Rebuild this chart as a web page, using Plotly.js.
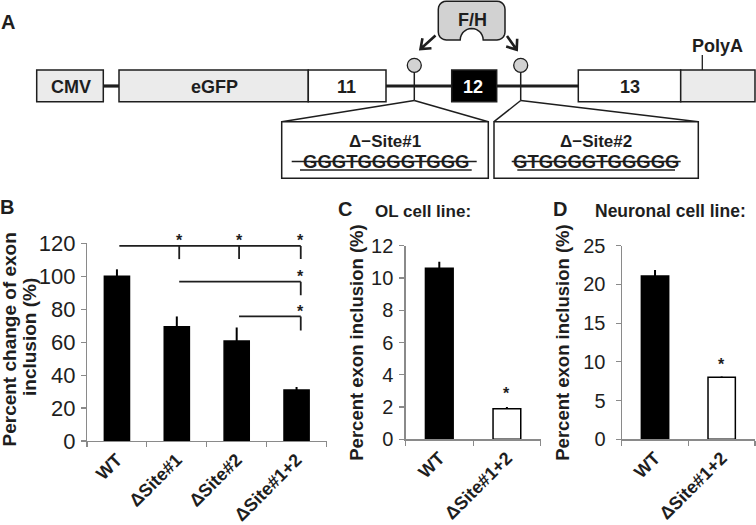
<!DOCTYPE html>
<html>
<head>
<meta charset="utf-8">
<script src="https://cdn.plot.ly/plotly-3.0.1.min.js"></script>
<style>
  html, body { margin: 0; padding: 0; background: #fff; }
  #chart { width: 756px; height: 525px; }
</style>
</head>
<body>
<div id="chart"></div>
<script>
// ---- values ---------------------------------------------------------------
const catsB = ['WT', 'ΔSite#1', 'ΔSite#2', 'ΔSite#1+2'];
const valsB = [100, 69.3, 60.7, 31.0];
const errB = [4.2, 6.3, 8.2, 1.8];

const catsCD = ['WT', 'ΔSite#1+2'];
const valsC = [10.6, 1.9];
const errC = [0.4, 0.1];
const valsD = [21.1, 8.0];
const errD = [0.75, 0.12];
const barColorsCD = ['#000000', '#ffffff'];

const ticksB = [0, 20, 40, 60, 80, 100, 120];
const ticksC = [0, 2, 4, 6, 8, 10, 12];
const ticksD = [0, 5, 10, 15, 20, 25];

// significance brackets in B (category index from → drops, bar height, drop end, star height)
const bracketFrom = [0, 1, 2];
const bracketDrops = [[1, 2, 3], [3], [3]];
const bracketY = [118.4, 96.7, 75.6];
const bracketLow = [110.4, 88.4, 67.1];
const bracketStar = [124, 102.5, 81.2];
const starC = 3.1, starD = 10.2;

// ---- page geometry: margins are zero, so paper coords map straight to pixels
const W = 756, H = 525;
const px = (x) => x / W;
const py = (y) => 1 - y / H;
const INK = '#1e1e1e';
const AXIS = '#8a8a8a';
const FONT = 'Arial, "Liberation Sans", Helvetica, sans-serif';

function rect(x0, y0, x1, y1, fill, w = 1.5) {
  return { type: 'rect', xref: 'paper', yref: 'paper', x0: px(x0), x1: px(x1), y0: py(y1), y1: py(y0),
    fillcolor: fill, line: { color: INK, width: w } };
}
function seg(x0, y0, x1, y1, w = 1.5) {
  return { type: 'line', xref: 'paper', yref: 'paper', x0: px(x0), y0: py(y0), x1: px(x1), y1: py(y1),
    line: { color: INK, width: w } };
}
function circle(cx, cy, r, fill) {
  return { type: 'circle', xref: 'paper', yref: 'paper', x0: px(cx - r), x1: px(cx + r), y0: py(cy + r), y1: py(cy - r),
    fillcolor: fill, line: { color: INK, width: 1.3 } };
}
function pathOf(pts, close) {
  return 'M' + pts.map(([x, y]) => `${px(x).toFixed(5)},${py(y).toFixed(5)}`).join('L') + (close ? 'Z' : '');
}
function arc(cx, cy, r, a0, a1, n = 10) {
  const out = [];
  for (let i = 0; i <= n; i++) {
    const a = a0 + (a1 - a0) * i / n;
    out.push([cx + r * Math.cos(a), cy + r * Math.sin(a)]);
  }
  return out;
}
function arrow(x0, y0, x1, y1, arm = 11, half = 0.66) {
  const a = Math.atan2(y0 - y1, x0 - x1);
  const p1 = [x1 + arm * Math.cos(a + half), y1 + arm * Math.sin(a + half)];
  const p2 = [x1 + arm * Math.cos(a - half), y1 + arm * Math.sin(a - half)];
  return { type: 'path', xref: 'paper', yref: 'paper', path: pathOf([[x0, y0], [x1, y1]]) + pathOf([p1, [x1, y1], p2]),
    line: { color: INK, width: 2.6 }, fillcolor: 'rgba(0,0,0,0)' };
}
function text(t, x, y, size, extra = {}) {
  return Object.assign({ xref: 'paper', yref: 'paper', x: px(x), y: py(y), text: t, showarrow: false,
    xanchor: 'center', yanchor: 'middle', font: { family: FONT, size, color: INK } }, extra);
}

// ---- panel A: construct diagram --------------------------------------------
const shapes = [];
const yMid = 86, yTop = 70, yBot = 101.7;
shapes.push(seg(103, yMid, 120, yMid, 3.2));
shapes.push(seg(386, yMid, 452, yMid, 3.2));
shapes.push(seg(496, yMid, 579, yMid, 3.2));
shapes.push(rect(36.7, yTop, 103.3, yBot, '#ebebeb'));
shapes.push(rect(119, yTop, 308.3, yBot, '#ebebeb'));
shapes.push(rect(308.3, yTop, 386, yBot, '#ffffff'));
shapes.push(rect(451.7, yTop, 496.7, yBot, '#000000'));
shapes.push(rect(578.3, yTop, 680.7, yBot, '#ffffff'));
shapes.push(rect(680.7, yTop, 755, yBot, '#ebebeb'));
shapes.push(seg(702.3, yTop, 702.3, 55, 1.3));

// binding sites, stems and zoom-out fans
const sites = [
  { x: 414.3, box: [281.7, 488.3] },
  { x: 520.7, box: [494, 698.3] },
];
sites.forEach((s) => {
  shapes.push(seg(s.x, 72, s.x, 100.5, 1.5));
  shapes.push(seg(s.x, 100.5, s.box[0], 121.7, 1.5));
  shapes.push(seg(s.x, 100.5, s.box[1], 121.7, 1.5));
  shapes.push(rect(s.box[0], 121.7, s.box[1], 178.3, '#ffffff'));
  shapes.push(circle(s.x, 65.3, 7, '#d2d2d2'));
});

// deleted sequences: strike-through and underline
shapes.push(seg(291.7, 161.5, 476.7, 161.5, 1.5));
shapes.push(seg(300, 170, 471.7, 170, 1.5));
shapes.push(seg(511.7, 161.5, 680.7, 161.5, 1.5));
shapes.push(seg(517.3, 170, 675, 170, 1.5));

// F/H protein: rounded box with a notch
(function () {
  const x0 = 438.3, x1 = 505, y0 = 1.2, y1 = 40, r = 8, cx = 471.7, nr = 11.5;
  const pts = [].concat(
    arc(x1 - r, y0 + r, r, -Math.PI / 2, 0, 5),
    arc(x1 - r, y1 - r, r, 0, Math.PI / 2, 5),
    arc(cx, y1, nr, 0, -Math.PI, 14),
    arc(x0 + r, y1 - r, r, Math.PI / 2, Math.PI, 5),
    arc(x0 + r, y0 + r, r, Math.PI, 1.5 * Math.PI, 5),
  );
  shapes.push({ type: 'path', xref: 'paper', yref: 'paper', path: pathOf(pts, true),
    fillcolor: '#d2d2d2', line: { color: INK, width: 1.5 } });
})();
shapes.push(arrow(435.5, 35.5, 420.5, 49));
shapes.push(arrow(507, 36, 516.7, 49.7));

const annotations = [
  text('<b>A</b>', 8, 22, 20),
  text('<b>CMV</b>', 70.5, 87, 18),
  text('<b>eGFP</b>', 214, 87, 18),
  text('<b>11</b>', 346.5, 87, 18),
  text('<b>12</b>', 473, 87, 18, { font: { family: FONT, size: 18, color: '#ffffff' } }),
  text('<b>13</b>', 630, 87, 18),
  text('<b>PolyA</b>', 717, 45.5, 18),
  text('<b>F/H</b>', 472, 20.5, 18),
  text('<b>Δ−Site#1</b>', 385, 141.7, 17),
  text('<b>Δ−Site#2</b>', 596, 141.7, 17),
  text('<b>GGGTGGGGTGGG</b>', 386, 162, 18.5),
  text('<b>GTGGGGTGGGGG</b>', 596, 162, 18.5),
  text('<b>B</b>', 7, 207, 20),
  text('<b>C</b>', 345, 209, 20),
  text('<b>D</b>', 560, 209, 20),
  text('<b>OL cell line:</b>', 422.5, 211, 17),
  text('<b>Neuronal cell line:</b>', 670, 211, 17.5),
  text('<b>Percent change of exon</b>', 8.5, 340, 19, { textangle: -90 }),
  text('<b>inclusion (%)</b>', 29, 337, 19, { textangle: -90 }),
];

// ---- panel B brackets and stars ---------------------------------------------
const xOff = 0.04, xRight = 3.07;
const bx = (i) => (i === 3 ? xRight : i + xOff);
// annotations outside an axis range are hidden, so clamp and shift instead
function starAt(x, y, xr, yr, top, pxPerUnit) {
  const yy = Math.min(y, top);
  return { xref: xr, yref: yr, x, y: yy, text: '<b>*</b>', showarrow: false, xanchor: 'center', yanchor: 'middle',
    yshift: (y - yy) * pxPerUnit - 4, font: { family: FONT, size: 16, color: INK } };
}
const pxB = (441 - 243.3) / 120;
bracketFrom.forEach((f, k) => {
  shapes.push({ type: 'line', xref: 'x', yref: 'y', x0: bx(f), x1: xRight, y0: bracketY[k], y1: bracketY[k],
    line: { color: INK, width: 1.8 } });
  bracketDrops[k].forEach((d) => {
    shapes.push({ type: 'line', xref: 'x', yref: 'y', x0: bx(d), x1: bx(d), y0: bracketY[k], y1: bracketLow[k],
      line: { color: INK, width: 1.8 } });
    annotations.push(starAt(bx(d), bracketStar[k], 'x', 'y', 120, pxB));
  });
});
annotations.push(starAt(1, starC, 'x2', 'y2', 12, 1));
annotations.push(starAt(1, starD, 'x3', 'y3', 25, 1));

// ---- bar traces -------------------------------------------------------------
function errBar(arr) {
  return { type: 'data', array: arr, arrayminus: arr.map(() => 0), symmetric: false,
    color: '#000', thickness: 2, width: 0 };
}
const traces = [
  { type: 'bar', x: catsB, y: valsB, xaxis: 'x', yaxis: 'y', width: 0.42,
    marker: { color: '#000', line: { color: '#000', width: 1.5 } }, error_y: errBar(errB), hoverinfo: 'x+y' },
  { type: 'bar', x: catsCD, y: valsC, xaxis: 'x2', yaxis: 'y2', width: 0.41,
    marker: { color: barColorsCD, line: { color: '#000', width: 1.5 } }, error_y: errBar(errC), hoverinfo: 'x+y' },
  { type: 'bar', x: catsCD, y: valsD, xaxis: 'x3', yaxis: 'y3', width: 0.41,
    marker: { color: barColorsCD, line: { color: '#000', width: 1.5 } }, error_y: errBar(errD), hoverinfo: 'x+y' },
];

function xAxis(dom, anchor) {
  return { domain: [px(dom[0]), px(dom[1])], anchor, type: 'category', showline: true, linecolor: AXIS, linewidth: 1.2,
    ticks: 'outside', tickson: 'boundaries', ticklen: 5, tickcolor: AXIS, tickwidth: 1.2, tickangle: -45,
    tickfont: { family: FONT, size: 18, color: INK, weight: 'bold' }, showgrid: false, zeroline: false,
    automargin: false, fixedrange: true };
}
function yAxis(dom, anchor, range, vals, size, standoff, title, titleStandoff) {
  const ax = { domain: [py(dom[1]), py(dom[0])], anchor, range, tickvals: vals, ticktext: vals.map(String),
    showline: true, linecolor: AXIS, linewidth: 1.2, ticks: 'outside', ticklen: 5, tickcolor: AXIS, tickwidth: 1.2,
    ticklabelstandoff: standoff, tickfont: { family: FONT, size, color: INK }, showgrid: false, zeroline: false,
    automargin: false, fixedrange: true };
  if (title) {
    ax.title = { text: title, standoff: titleStandoff,
      font: { family: FONT, size: 18.5, color: INK, weight: 'bold' } };
  }
  return ax;
}

const layout = {
  width: W, height: H,
  margin: { l: 0, r: 0, t: 0, b: 0 },
  paper_bgcolor: '#fff', plot_bgcolor: 'rgba(0,0,0,0)',
  showlegend: false,
  font: { family: FONT, color: INK },
  xaxis: xAxis([87, 326.5], 'y'),
  yaxis: yAxis([243.3, 441], 'x', [0, 120], ticksB, 22, 1),
  xaxis2: xAxis([405.5, 540.7], 'y2'),
  yaxis2: yAxis([245.7, 439.3], 'x2', [0, 12], ticksC, 20, 2, 'Percent exon inclusion (%)', 2),
  xaxis3: xAxis([621.7, 755], 'y3'),
  yaxis3: yAxis([245.7, 439.3], 'x3', [0, 25], ticksD, 20, 6, 'Percent exon inclusion (%)', 8),
  shapes, annotations,
};

Plotly.newPlot('chart', traces, layout, { displayModeBar: false, staticPlot: true });
</script>
</body>
</html>
